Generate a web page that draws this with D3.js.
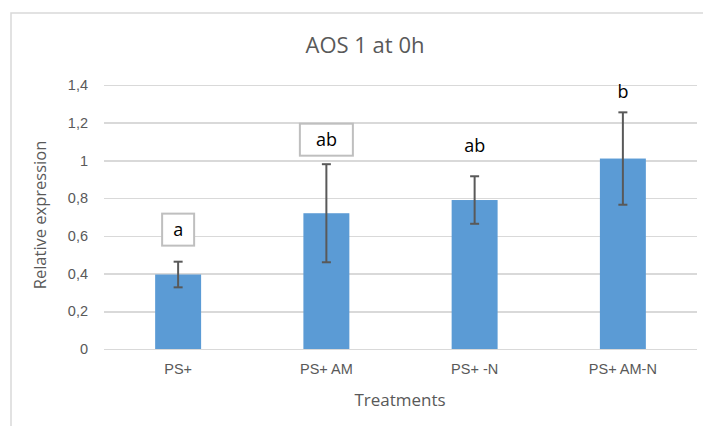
<!DOCTYPE html>
<html>
<head>
	<meta charset="utf-8">
	<title>AOS 1 at 0h</title>
	<script src="https://d3js.org/d3.v7.min.js"></script>
	<style>
		body { margin: 0; background: #fff; font-family: "Open Sans", "Noto Sans", Arial, sans-serif; }
		.grid line { stroke: #d9d9d9; stroke-width: 1.5; shape-rendering: crispEdges; }
		.axis text { fill: #595959; font-size: 14.5px; }
		.axis path, .axis line { display: none; }
	</style>
</head>
<body>
	<svg id="chart"></svg>
	<script type="text/javascript">

	var treatments = ["PS+", "PS+ AM", "PS+ -N", "PS+ AM-N"];
	var expression = [0.395, 0.72, 0.79, 1.01];
	var stdError   = [0.068, 0.26, 0.126, 0.245];
	var letters    = ["a", "ab", "ab", "b"];
	var letterAt   = [0.633, 1.11, 1.078, 1.364];
	var letterBox  = [true, true, false, false];
	var yTicks     = [0, 0.2, 0.4, 0.6, 0.8, 1, 1.2, 1.4];

	var W = 703, H = 426;
	var margin = {top: 85, right: 6, bottom: 77, left: 104},
		width = W - margin.left - margin.right,
		height = H - margin.top - margin.bottom;

	var svg = d3.select("#chart").attr("width", W).attr("height", H);

	// outer chart frame (cut off at right and bottom)
	svg.append("rect")
		.attr("x", 11).attr("y", 13)
		.attr("width", W).attr("height", H)
		.attr("fill", "none")
		.attr("stroke", "#d9d9d9")
		.attr("stroke-width", 1.5);

	var x = d3.scaleBand().domain(treatments).range([0, width]).paddingInner(0.69).paddingOuter(0.345),
		y = d3.scaleLinear().domain([0, 1.4]).range([height, 0]);

	var g = svg.append("g").attr("transform", "translate(" + margin.left + "," + margin.top + ")");

	g.append("g")
		.attr("class", "grid")
		.call(d3.axisLeft(y).tickValues(yTicks).tickSize(-width).tickFormat(""))
		.call(function(s) { s.select(".domain").remove(); });

	var fmt = function(d) { return d3.format("~g")(d).replace(".", ","); };

	g.append("g")
		.attr("class", "axis")
		.attr("transform", "translate(-10,0)")
		.call(d3.axisLeft(y).tickValues(yTicks).tickSize(0).tickPadding(6).tickFormat(fmt));

	g.append("g")
		.attr("class", "axis")
		.attr("transform", "translate(0," + height + ")")
		.call(d3.axisBottom(x).tickSize(0).tickPadding(15));

	var bars = treatments.map(function(t, i) {
		return {name: t, value: expression[i], err: stdError[i], letter: letters[i], at: letterAt[i], box: letterBox[i]};
	});

	g.selectAll(".bar")
		.data(bars)
		.enter().append("rect")
		.attr("class", "bar")
		.attr("x", function(d) { return x(d.name); })
		.attr("width", x.bandwidth())
		.attr("y", function(d) { return y(d.value); })
		.attr("height", function(d) { return height - y(d.value); })
		.attr("fill", "#5b9bd5");

	var eb = g.selectAll(".err").data(bars).enter().append("g").attr("class", "err")
		.attr("stroke", "#595959").attr("stroke-width", 2);
	eb.append("line")
		.attr("x1", function(d) { return x(d.name) + x.bandwidth() / 2; })
		.attr("x2", function(d) { return x(d.name) + x.bandwidth() / 2; })
		.attr("y1", function(d) { return y(d.value + d.err); })
		.attr("y2", function(d) { return y(d.value - d.err); });
	[1, -1].forEach(function(sign) {
		eb.append("line")
			.attr("x1", function(d) { return x(d.name) + x.bandwidth() / 2 - 4.5; })
			.attr("x2", function(d) { return x(d.name) + x.bandwidth() / 2 + 4.5; })
			.attr("y1", function(d) { return y(d.value + sign * d.err); })
			.attr("y2", function(d) { return y(d.value + sign * d.err); });
	});

	// significance letters
	var lab = g.selectAll(".letter").data(bars).enter().append("g").attr("class", "letter")
		.attr("transform", function(d) { return "translate(" + (x(d.name) + x.bandwidth() / 2) + "," + y(d.at) + ")"; });
	lab.filter(function(d) { return d.box; }).append("rect")
		.attr("x", function(d) { return d.letter.length > 1 ? -26.5 : -16; })
		.attr("width", function(d) { return d.letter.length > 1 ? 53 : 32; })
		.attr("y", -16).attr("height", 32)
		.attr("fill", "#fff").attr("stroke", "#bfbfbf").attr("stroke-width", 2);
	lab.append("text")
		.attr("text-anchor", "middle")
		.attr("dy", "0.35em")
		.style("font-size", "18px")
		.style("fill", "#000")
		.text(function(d) { return d.letter; });

	svg.append("text")
		.attr("x", 365).attr("y", 53)
		.attr("text-anchor", "middle")
		.style("font-size", "22px")
		.style("fill", "#595959")
		.text("AOS 1 at 0h");

	svg.append("text")
		.attr("transform", "translate(46,215) rotate(-90)")
		.attr("text-anchor", "middle")
		.style("font-size", "16.5px")
		.style("fill", "#595959")
		.text("Relative expression");

	svg.append("text")
		.attr("x", 400).attr("y", 406)
		.attr("text-anchor", "middle")
		.style("font-size", "17px")
		.style("fill", "#595959")
		.text("Treatments");
	</script>
</body>
</html>
